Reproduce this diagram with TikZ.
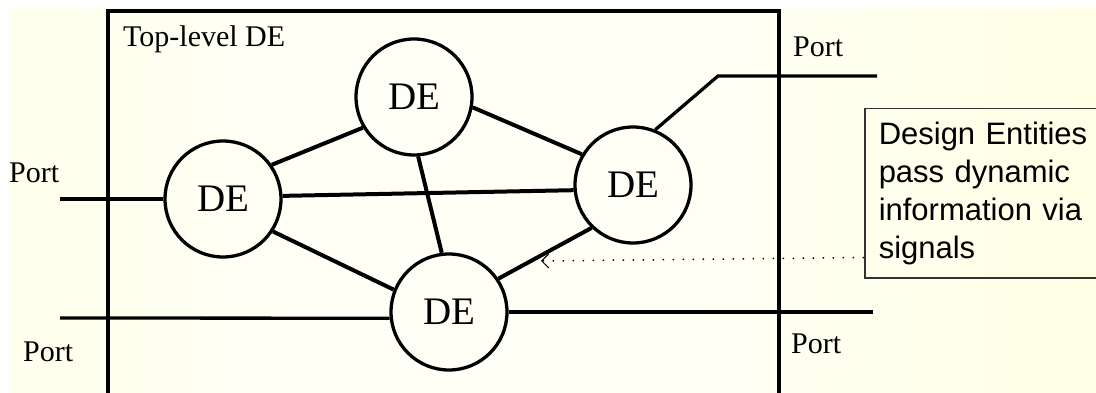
\documentclass[tikz,border=0pt]{standalone}
\usepackage{fontspec}
\setmainfont{Liberation Serif}
\newfontfamily\notefont{Liberation Sans}
\usetikzlibrary{arrows.meta}
\definecolor{paleL}{HTML}{FFFFDC}
\definecolor{paleM}{HTML}{FFFFF6}
\definecolor{paleR}{HTML}{FFFFD0}
\pgfdeclarehorizontalshading{paper}{100bp}{%
  color(0bp)=(paleL); color(40bp)=(paleM); color(55bp)=(paleM); color(100bp)=(paleR)}
\begin{document}
\begin{tikzpicture}[x=1pt,y=-1pt,
  entity/.style={circle,draw,line width=3.3pt,minimum size=116pt,inner sep=0pt,
    font=\fontsize{39}{39}\selectfont},
  wire/.style={line width=4pt},
  portwire/.style={line width=3.3pt},
  frame/.style={line width=3.3pt},
  label/.style={anchor=base west,inner sep=0pt,font=\fontsize{30}{30}\selectfont},
  notebox/.style={draw=black!80,line width=1.5pt,anchor=north west,
    minimum width=260pt,minimum height=169pt,inner xsep=14pt,inner ysep=0pt,
    text width=232pt,align=left,font=\notefont\fontsize{31}{38}\selectfont},
  hint/.style={line width=1.5pt,dash pattern=on 1.5pt off 8.5pt,
    -{Straight Barb[length=7pt,width=14pt,line width=1pt]}},
 ]
\useasboundingbox (0,0) rectangle (1096,393);
\clip (0,0) rectangle (1096,393);
% paper background
\fill[white] (0,0) rectangle (1096,393);
\shade[shading=paper] (9,9) rectangle (1096,393);

% enclosing top-level entity
\coordinate (fBL) at (108,400);
\coordinate (fTL) at (108,11);
\coordinate (fTR) at (779,11);
\coordinate (fBR) at (779,400);
\draw[frame] (fBL) -- (fTL) -- (fTR) -- (fBR);
\node[label] (title) at (123,47) {Top-level DE};

% design entities
\node[entity] (deT) at (414,97) {DE};
\node[entity] (deL) at (223,199) {DE};
\node[entity] (deR) at (633,185) {DE};
\node[entity] (deB) at (449,312) {DE};

% signals between entities
\draw[wire] (deL.35) -- (deT.211);
\draw[wire] (deL.3) -- (deR.185);
\draw[wire] (deL.-33) -- (deB.158);
\draw[wire] (deT.-10) -- (deR.149);
\draw[wire] (deT.-86) -- (deB.97);
\draw[wire] (deR.226) -- (deB.34);

% ports
\coordinate (pL) at (60,199);
\coordinate (pBL) at (60,318);
\coordinate (pTRk) at (718,76);
\coordinate (pTR) at (877,76);
\coordinate (pBR) at (873,312);
\draw[portwire] (pL) -- (deL.west);
\draw[portwire] (pBL) -- (deB.186);
\draw[portwire] (deR.68) -- (pTRk) -- (pTR);
\draw[portwire] (deB.east) -- (pBR);
\node[label] (portL) at (9,183) {Port};
\node[label] (portBL) at (23,361) {Port};
\node[label] (portTR) at (793,57) {Port};
\node[label] (portBR) at (791,353) {Port};

% annotation
\node[notebox] (note) at (864,108) {Design Entities\\pass dynamic\\information via\\signals};
\coordinate (sig) at (541,261);
\draw[hint] ([yshift=21pt]note.south west) -- (sig);
\end{tikzpicture}
\end{document}
